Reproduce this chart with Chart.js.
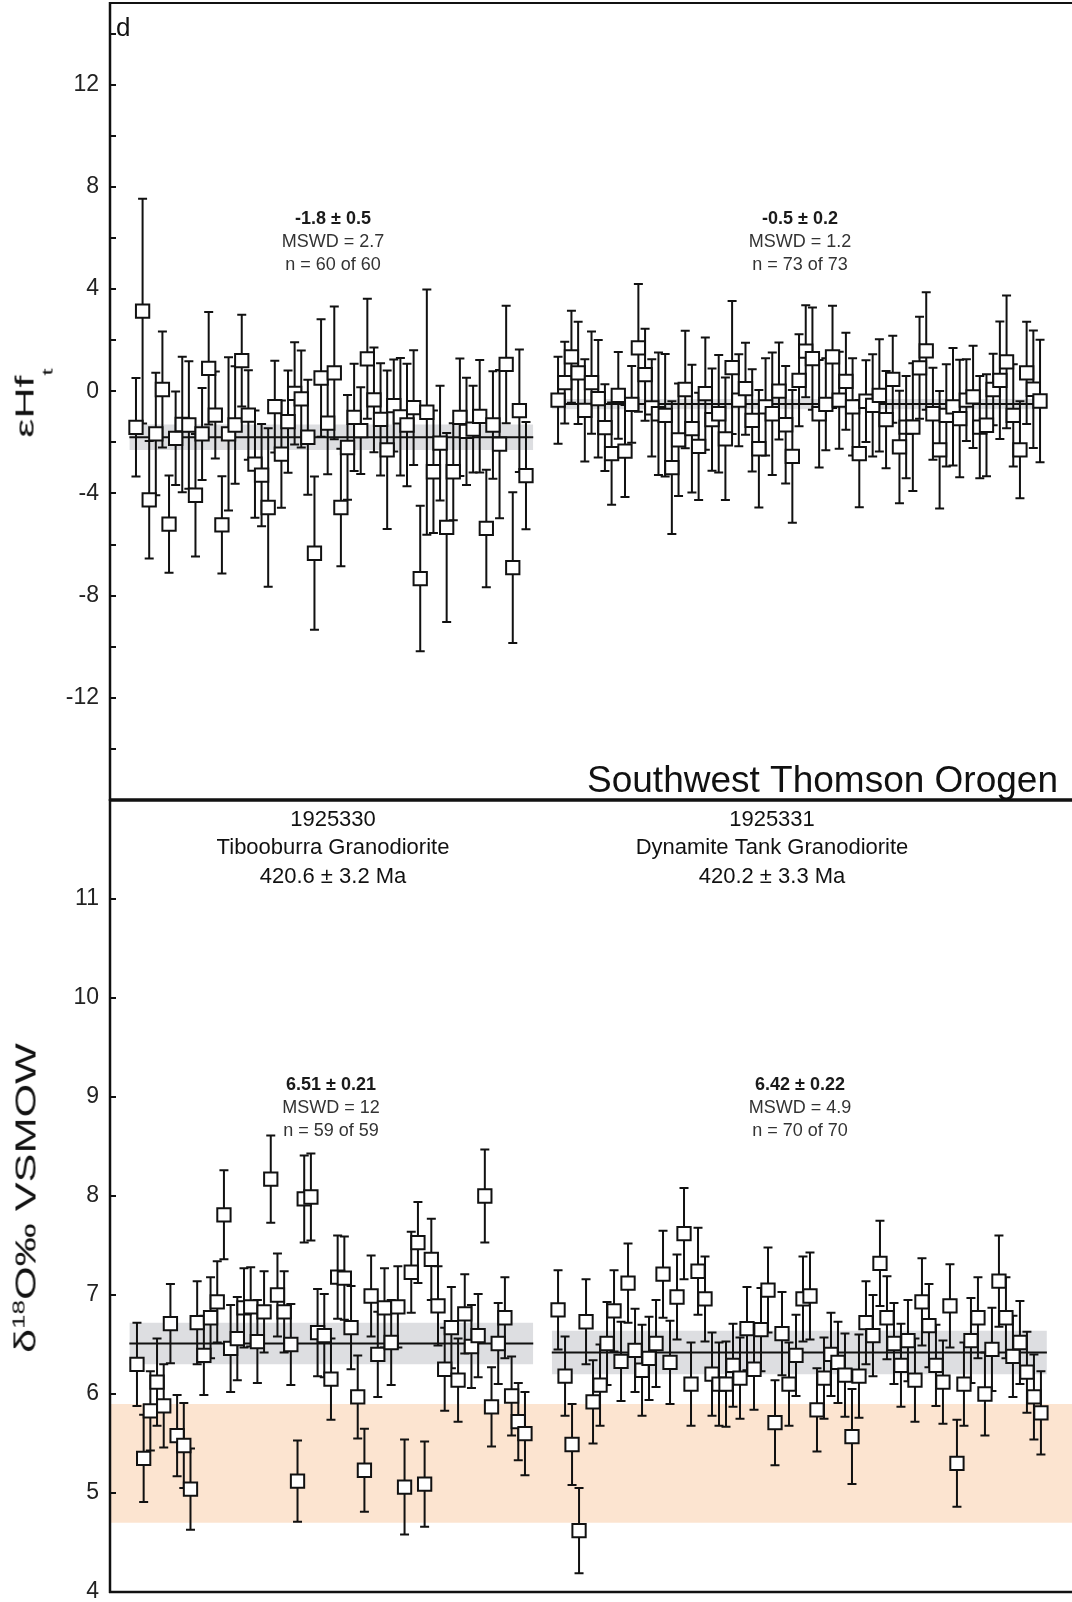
<!DOCTYPE html>
<html>
<head>
<meta charset="utf-8">
<script src="https://cdn.jsdelivr.net/npm/chart.js@4.4.1/dist/chart.umd.min.js"></script>
<style>
  html, body { margin: 0; padding: 0; background: #fff; }
  #wrap { position: relative; width: 1072px; height: 1602px; overflow: hidden; background: #fff; }
  canvas { position: absolute; left: 0; }
  #c1 { top: 0; }
  #c2 { top: 798px; }
  .ytitle { position: absolute; white-space: nowrap; line-height: 1; color: #111;
    font-family: "Liberation Sans", Arial, Helvetica, sans-serif; transform-origin: 50% 50%; }
  .ytitle .sub { font-size: 0.6em; position: relative; }
  .ytitle .sup { font-size: 0.6em; position: relative; }
</style>
</head>
<body>
<div id="wrap">
  <canvas id="c1" width="1072" height="802"></canvas>
  <canvas id="c2" width="1072" height="804"></canvas>
  <div class="ytitle" id="yt1" style="font-size:25px">εHf<span class="sub" style="top:19px">t</span></div>
  <div class="ytitle" id="yt2" style="font-size:29px">δ<span class="sup" style="top:-11px">18</span>O‰ VSMOW</div>
</div>
<script>
// ---------------- DATA ----------------
// εHf(t) — 1925330 Tibooburra Granodiorite (60 analyses)
const hfLeftVals = [-1.41, 3.14, -4.25, -1.67, 0.07, -5.2, -1.84, -1.3, -1.32, -4.07,
  -1.67, 0.9, -0.93, -5.23, -1.67, -1.32, 1.2, -0.93, -2.85, -3.28,
  -4.55, -0.6, -2.46, -1.19, -0.08, -0.3, -1.8, -6.34, 0.52, -1.25,
  0.72, -4.55, -2.2, -1.02, -1.54, 1.27, -0.34, -1.1, -2.29, -0.56,
  -1.0, -1.32, -0.64, -7.33, -0.82, -3.15, -2.03, -5.33, -3.15, -1.02,
  -1.57, -1.48, -0.98, -5.37, -1.32, -2.07, 1.05, -6.9, -0.76, -3.3];
const hfLeftErr = [1.93, 4.4, 2.3, 2.4, 2.27, 1.9, 1.83, 2.65, 2.5, 2.4,
  1.8, 2.2, 1.7, 1.9, 3.0, 2.3, 1.8, 1.75, 2.1, 2.0,
  3.1, 1.8, 2.1, 2.0, 2.0, 1.9, 2.25, 3.0, 2.3, 2.0,
  2.6, 2.3, 2.05, 2.1, 1.7, 2.35, 2.05, 2.2, 3.1, 1.8,
  2.3, 2.4, 2.25, 2.85, 4.8, 2.4, 2.25, 3.7, 1.9, 2.3,
  2.1, 1.7, 2.2, 2.3, 2.1, 2.9, 2.3, 2.95, 2.4, 2.1];

// εHf(t) — 1925331 Dynamite Tank Granodiorite (73 analyses)
const hfRightVals = [-0.35, 0.34, 1.35, 0.72, -0.75, 0.34, -0.29, -1.42, -2.44, -0.16,
  -2.34, -0.51, 1.7, 0.65, -0.65, -0.88, -0.94, -2.99, -1.9, 0.07,
  -1.46, -2.16, -0.09, -1.11, -0.88, -1.86, 0.93, -0.35, 0.1, -1.14,
  -2.25, -0.61, -0.88, 0.01, -1.31, -2.55, 0.43, 1.57, 1.28, -0.88,
  -0.51, 1.35, -0.35, 0.39, -0.61, -2.44, -0.39, -0.55, -0.16, -1.11,
  0.47, -2.18, -1.4, -1.4, 0.92, 1.58, -0.88, -2.29, -0.94, -0.61,
  -1.07, -0.35, -0.22, -1.4, -1.33, 0.07, 0.43, 1.15, -0.94, -2.29,
  0.72, 0.08, -0.38];
const hfRightErr = [1.7, 1.6, 1.8, 2.0, 2.0, 2.0, 2.3, 1.7, 2.0, 1.7,
  1.8, 1.5, 2.5, 1.8, 1.9, 2.4, 2.4, 2.6, 2.2, 2.3,
  2.5, 2.1, 2.2, 2.0, 2.3, 2.4, 2.6, 1.8, 1.8, 2.0,
  2.3, 1.9, 2.4, 1.9, 2.3, 2.6, 1.8, 1.8, 2.0, 2.1,
  1.8, 2.0, 1.9, 1.9, 1.9, 2.1, 1.6, 2.0, 2.2, 1.9,
  1.7, 2.2, 2.0, 2.5, 2.0, 2.3, 1.8, 2.3, 2.0, 2.3,
  2.3, 1.6, 2.0, 2.0, 2.0, 1.4, 2.3, 2.6, 2.0, 1.9,
  2.0, 2.3, 2.4];

// δ18O — 1925330 (59 analyses)
const oLeftVals = [6.30, 5.35, 5.83, 6.12, 5.88, 6.71, 5.58, 5.48, 5.04, 6.72,
  6.39, 6.77, 6.93, 7.81, 6.46, 6.56, 6.87, 6.88, 6.53, 6.83,
  8.17, 7.0, 6.83, 6.5, 5.12, 7.97, 7.99, 6.62, 6.59, 6.15,
  7.18, 7.17, 6.67, 5.97, 5.23, 6.99, 6.4, 6.87, 6.52, 6.88,
  5.06, 7.23, 7.53, 5.09, 7.36, 6.89, 6.25, 6.67, 6.14, 6.81,
  6.48, 6.59, 8.0, 5.87, 6.51, 6.77, 5.98, 5.72, 5.6];
const oLeftErr = [0.42, 0.44, 0.4, 0.44, 0.42, 0.4, 0.41, 0.43, 0.41, 0.42,
  0.4, 0.41, 0.41, 0.45, 0.44, 0.42, 0.4, 0.4, 0.42, 0.41,
  0.44, 0.42, 0.41, 0.41, 0.41, 0.44, 0.44, 0.44, 0.42, 0.41,
  0.42, 0.42, 0.42, 0.42, 0.42, 0.41, 0.43, 0.4, 0.43, 0.41,
  0.48, 0.41, 0.41, 0.43, 0.41, 0.4, 0.42, 0.41, 0.42, 0.4,
  0.42, 0.42, 0.47, 0.4, 0.41, 0.41, 0.4, 0.39, 0.42];

// δ18O — 1925331 (70 analyses)
const oRightVals = [6.85, 6.18, 5.49, 4.62, 6.73, 5.92, 6.09, 6.51, 6.84, 6.33,
  7.12, 6.44, 6.24, 6.36, 6.51, 7.21, 6.32, 6.98, 7.62, 6.10,
  7.24, 6.96, 6.20, 6.10, 6.10, 6.29, 6.16, 6.66, 6.25, 6.65,
  7.05, 5.71, 6.61, 6.10, 6.39, 6.96, 6.99, 5.84, 6.16, 6.40,
  6.32, 6.19, 5.57, 6.18, 6.72, 6.59, 7.32, 6.77, 6.51, 6.29,
  6.54, 6.14, 6.93, 6.69, 6.29, 6.12, 6.89, 5.30, 6.10, 6.54,
  6.77, 6.00, 6.45, 7.14, 6.77, 6.38, 6.52, 6.22, 5.97, 5.81];
const oRightErr = [0.4, 0.4, 0.41, 0.43, 0.43, 0.42, 0.41, 0.42, 0.41, 0.4,
  0.4, 0.42, 0.46, 0.42, 0.44, 0.44, 0.42, 0.43, 0.46, 0.42,
  0.44, 0.43, 0.42, 0.42, 0.43, 0.42, 0.41, 0.42, 0.41, 0.42,
  0.43, 0.43, 0.42, 0.42, 0.41, 0.43, 0.44, 0.42, 0.41, 0.42,
  0.41, 0.42, 0.48, 0.42, 0.42, 0.41, 0.43, 0.42, 0.41, 0.42,
  0.41, 0.42, 0.44, 0.42, 0.41, 0.42, 0.42, 0.44, 0.42, 0.43,
  0.41, 0.42, 0.42, 0.46, 0.41, 0.41, 0.42, 0.41, 0.43, 0.42];

// weighted means [mean, 2σ]
const hfLeftMean = [-1.8, 0.5];
const hfRightMean = [-0.5, 0.2];
const oLeftMean = [6.51, 0.21];
const oRightMean = [6.42, 0.22];
// mantle zircon δ18O field
const mantleBand = [4.7, 5.9];

// axis ranges
const hfRange = [-16, 15.2];
const oRange = [4, 12];

// ---------------- LAYOUT / STYLE ----------------
const FONT = '"Liberation Sans", Arial, Helvetica, sans-serif';
const X_MIN = -2.93, X_MAX = 142.6;
const groupLayout = {
  topLeft:  { start: 1.0,   step: 1.0 },
  topRight: { start: 64.85, step: 1.0127 },
  botLeft:  { start: 1.15,  step: 1.012 },
  botRight: { start: 64.85, step: 1.0587 }
};
const leftSpan = [0, 61.1], rightSpan = [63.9, 138.8];
const BAND_GREY = 'rgb(221,222,225)';
const BAND_ORANGE = 'rgb(252,228,208)';

function pts(vals, g) { return vals.map((v, i) => ({ x: g.start + i * g.step, y: v })); }
function pointsDs(vals, errs, g) {
  return { data: pts(vals, g), errors: errs, showLine: false, pointStyle: 'rect',
    pointRadius: 9.4, pointBorderWidth: 2, pointBorderColor: '#111',
    pointBackgroundColor: '#fff', order: 0, clip: false };
}
function lineDs(y, span, order) {
  return { data: [{ x: span[0], y: y }, { x: span[1], y: y }], showLine: true,
    borderColor: '#111', borderWidth: 2, pointRadius: 0, fill: false, order: order };
}
function bandDs(lo, hi, span, color, order) {
  return [
    { data: [{ x: span[0], y: hi }, { x: span[1], y: hi }], showLine: true, borderWidth: 0,
      borderColor: 'rgba(0,0,0,0)', pointRadius: 0, fill: '+1', backgroundColor: color, order: order },
    { data: [{ x: span[0], y: lo }, { x: span[1], y: lo }], showLine: true, borderWidth: 0,
      borderColor: 'rgba(0,0,0,0)', pointRadius: 0, fill: false, order: order }
  ];
}

// error bars through the chart's own scales
const errorBarPlugin = {
  id: 'errorBars',
  beforeDatasetDraw(chart, args) {
    const ds = chart.data.datasets[args.index];
    if (!ds.errors) return;
    const { ctx, scales: { x, y } } = chart;
    const cap = 4.5;
    ctx.save();
    ctx.strokeStyle = '#111';
    ctx.lineWidth = 2;
    ds.data.forEach((p, i) => {
      const e = ds.errors[i];
      const px = x.getPixelForValue(p.x);
      const y1 = y.getPixelForValue(p.y + e), y2 = y.getPixelForValue(p.y - e);
      ctx.beginPath();
      ctx.moveTo(px, y1); ctx.lineTo(px, y2);
      ctx.moveTo(px - cap, y1); ctx.lineTo(px + cap, y1);
      ctx.moveTo(px - cap, y2); ctx.lineTo(px + cap, y2);
      ctx.stroke();
    });
    ctx.restore();
  }
};

// frame + inward ticks
const framePlugin = {
  id: 'frame',
  afterDraw(chart, args, opts) {
    const { ctx, chartArea: a, scales: { y } } = chart;
    ctx.save();
    ctx.strokeStyle = '#111';
    ctx.lineWidth = 2;
    y.ticks.forEach(t => {
      const py = Math.round(y.getPixelForValue(t.value));
      ctx.beginPath(); ctx.moveTo(a.left, py); ctx.lineTo(a.left + 6, py); ctx.stroke();
    });
    if (opts.top) { ctx.lineWidth = opts.topWidth || 2; ctx.beginPath(); ctx.moveTo(a.left - 1, a.top); ctx.lineTo(a.right, a.top); ctx.stroke(); }
    if (opts.bottom) { ctx.lineWidth = opts.bottomWidth || 2; ctx.beginPath(); ctx.moveTo(a.left - 1, a.bottom); ctx.lineTo(a.right, a.bottom); ctx.stroke(); }
    ctx.lineWidth = 2.5;
    ctx.beginPath(); ctx.moveTo(a.left, a.top - 1); ctx.lineTo(a.left, a.bottom + 1); ctx.stroke();
    ctx.restore();
  }
};

// annotation text
const textPlugin = {
  id: 'texts',
  afterDraw(chart, args, opts) {
    const ctx = chart.ctx;
    (opts.items || []).forEach(it => {
      ctx.save();
      ctx.font = (it.bold ? 'bold ' : '') + it.size + 'px ' + FONT;
      ctx.fillStyle = it.color || '#111';
      ctx.textAlign = it.align || 'center';
      ctx.textBaseline = it.baseline || 'middle';
      ctx.fillText(it.t, it.x, it.y);
      ctx.restore();
    });
  }
};

function yAxis(range, step, labelFn) {
  return {
    type: 'linear', min: range[0], max: range[1],
    afterFit(s) { s.width = 110; s.paddingTop = 0; s.paddingBottom = 0; },
    grid: { display: false, drawTicks: false },
    border: { display: false },
    ticks: { stepSize: step, includeBounds: false, autoSkip: false, padding: 11,
      color: '#222', font: { family: FONT, size: 23, lineHeight: 0.2 }, callback: labelFn }
  };
}

function makeChart(id, datasets, yScale, padding, frameOpts, textOpts) {
  return new Chart(document.getElementById(id), {
    type: 'line',
    data: { datasets: datasets },
    options: {
      responsive: false, animation: false, events: [],
      layout: { autoPadding: false, padding: padding },
      plugins: { legend: { display: false }, tooltip: { enabled: false },
        frame: frameOpts, texts: textOpts },
      scales: { x: { type: 'linear', min: X_MIN, max: X_MAX, display: false }, y: yScale }
    },
    plugins: [errorBarPlugin, framePlugin, textPlugin]
  });
}

// ---------------- TOP PANEL: εHf ----------------
const topSets = [
  pointsDs(hfLeftVals, hfLeftErr, groupLayout.topLeft),
  pointsDs(hfRightVals, hfRightErr, groupLayout.topRight),
  lineDs(hfLeftMean[0], leftSpan, 1),
  lineDs(hfRightMean[0], rightSpan, 1),
  ...bandDs(hfLeftMean[0] - hfLeftMean[1], hfLeftMean[0] + hfLeftMean[1], leftSpan, BAND_GREY, 2),
  ...bandDs(hfRightMean[0] - hfRightMean[1], hfRightMean[0] + hfRightMean[1], rightSpan, BAND_GREY, 2)
];
makeChart('c1', topSets,
  yAxis(hfRange, 2, v => (v % 4 === 0 && v > -16) ? String(v) : ''),
  { top: 3, bottom: 2, left: 0, right: 0 },
  { top: true, bottom: true, topWidth: 2, bottomWidth: 3 },
  {
    items: [
      { t: 'd', x: 116, y: 36, size: 26, align: 'left', baseline: 'alphabetic' },
      { t: '-1.8 ± 0.5', x: 333, y: 219, size: 18, bold: true, color: '#1a1a1a' },
      { t: 'MSWD = 2.7', x: 333, y: 242, size: 18, color: '#333' },
      { t: 'n = 60 of 60', x: 333, y: 265, size: 18, color: '#333' },
      { t: '-0.5 ± 0.2', x: 800, y: 219, size: 18, bold: true, color: '#1a1a1a' },
      { t: 'MSWD = 1.2', x: 800, y: 242, size: 18, color: '#333' },
      { t: 'n = 73 of 73', x: 800, y: 265, size: 18, color: '#333' },
      { t: 'Southwest Thomson Orogen', x: 1058, y: 792, size: 37, align: 'right', baseline: 'alphabetic' }
    ]
  }
);

// ---------------- BOTTOM PANEL: δ18O ----------------
const botSets = [
  pointsDs(oLeftVals, oLeftErr, groupLayout.botLeft),
  pointsDs(oRightVals, oRightErr, groupLayout.botRight),
  lineDs(oLeftMean[0], leftSpan, 1),
  lineDs(oRightMean[0], rightSpan, 1),
  ...bandDs(oLeftMean[0] - oLeftMean[1], oLeftMean[0] + oLeftMean[1], leftSpan, BAND_GREY, 2),
  ...bandDs(oRightMean[0] - oRightMean[1], oRightMean[0] + oRightMean[1], rightSpan, BAND_GREY, 2),
  ...bandDs(mantleBand[0], mantleBand[1], [X_MIN, X_MAX], BAND_ORANGE, 3)
];
makeChart('c2', botSets,
  yAxis(oRange, 1, v => v < 12 ? String(v) : ''),
  { top: 2, bottom: 10, left: 0, right: 0 },
  { top: true, bottom: true, topWidth: 3, bottomWidth: 2.5 },
  {
    items: [
      { t: '1925330', x: 333, y: 22, size: 22 },
      { t: 'Tibooburra Granodiorite', x: 333, y: 50, size: 22 },
      { t: '420.6 ± 3.2 Ma', x: 333, y: 79, size: 22 },
      { t: '1925331', x: 772, y: 22, size: 22 },
      { t: 'Dynamite Tank Granodiorite', x: 772, y: 50, size: 22 },
      { t: '420.2 ± 3.3 Ma', x: 772, y: 79, size: 22 },
      { t: '6.51 ± 0.21', x: 331, y: 287, size: 18, bold: true, color: '#1a1a1a' },
      { t: 'MSWD = 12', x: 331, y: 310, size: 18, color: '#333' },
      { t: 'n = 59 of 59', x: 331, y: 333, size: 18, color: '#333' },
      { t: '6.42 ± 0.22', x: 800, y: 287, size: 18, bold: true, color: '#1a1a1a' },
      { t: 'MSWD = 4.9', x: 800, y: 310, size: 18, color: '#333' },
      { t: 'n = 70 of 70', x: 800, y: 333, size: 18, color: '#333' }
    ]
  }
);

// ---------------- rotated axis titles (stretched along their length) ----------------
function placeTitle(id, cx, cy, length) {
  const el = document.getElementById(id);
  const w = el.offsetWidth;
  const s = length / w;
  el.style.left = cx + 'px';
  el.style.top = cy + 'px';
  el.style.transform = 'translate(-50%, -50%) rotate(-90deg) scaleX(' + s + ')';
}
placeTitle('yt1', 25, 403, 69);
placeTitle('yt2', 26, 1198, 310);
</script>
</body>
</html>
